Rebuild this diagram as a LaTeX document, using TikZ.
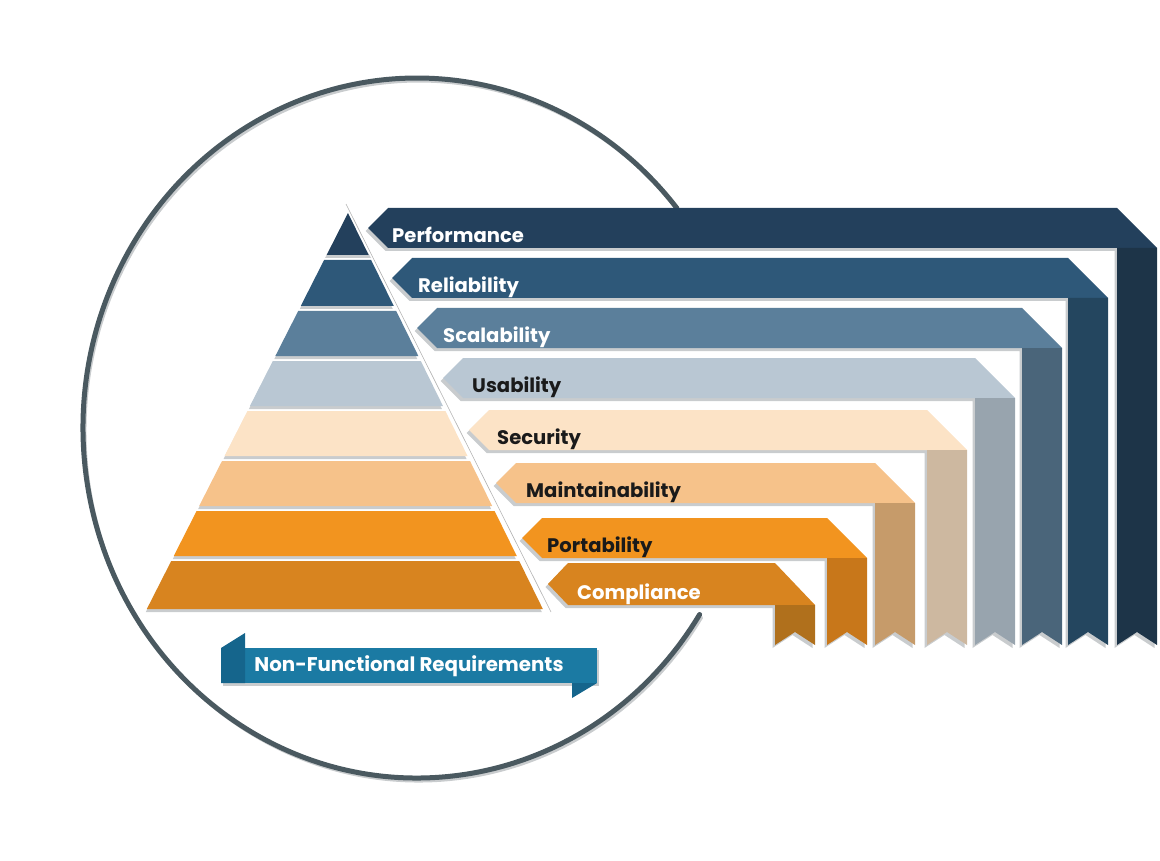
\documentclass[tikz,border=0pt]{standalone}
\usepackage{fontspec}
\setmainfont{Poppins}
\usetikzlibrary{calc}
\definecolor{b1}{HTML}{23405C}\definecolor{b2}{HTML}{2E5879}
\definecolor{b3}{HTML}{5B7F9B}\definecolor{b4}{HTML}{B9C7D3}
\definecolor{b5}{HTML}{FCE3C6}\definecolor{b6}{HTML}{F6C28A}
\definecolor{b7}{HTML}{F2941F}\definecolor{b8}{HTML}{D8841F}
\definecolor{s1}{HTML}{1D3448}\definecolor{s2}{HTML}{24465F}
\definecolor{s3}{HTML}{4A657A}\definecolor{s4}{HTML}{98A4AE}
\definecolor{s5}{HTML}{CDB8A0}\definecolor{s6}{HTML}{C69B6A}
\definecolor{s7}{HTML}{C8771A}\definecolor{s8}{HTML}{B0701C}
\definecolor{ringc}{HTML}{4A5960}\definecolor{shadowc}{HTML}{C9CCCE}
\definecolor{darktxt}{HTML}{1A1A1A}
\definecolor{banc}{HTML}{1B7AA3}\definecolor{bandark}{HTML}{15658C}
\tikzset{
  lbl/.style={font=\fontsize{19.6}{22}\selectfont\bfseries, inner sep=0pt},
  banlbl/.style={font=\fontsize{19.8}{22}\selectfont\bfseries, inner sep=0pt},
  ring/.style={draw=ringc, line width=5pt, line cap=round},
  ringshadow/.style={draw=shadowc, line width=3pt, line cap=round},
}
\newcommand{\pyrlayer}[3]{% top, bottom, colour
  \pgfmathsetmacro\ltx{348-0.508*(#1-213)}
  \pgfmathsetmacro\rtx{348+0.492*(#1-213)}
  \pgfmathsetmacro\lbx{348-0.508*(#2-213)}
  \pgfmathsetmacro\rbx{348+0.492*(#2-213)}
  \fill[shadowc] (\ltx-1,#1+3) -- (\rtx-1,#1+3) -- (\rbx-1,#2+3) -- (\lbx-1,#2+3) -- cycle;
  \fill[#3] (\ltx,#1) -- (\rtx,#1) -- (\rbx,#2) -- (\lbx,#2) -- cycle;
}
\newcommand{\ribbon}[9]{% top, bottom, tip x, strip x, band col, strip col, text col, text x, label
  \pgfmathsetmacro\ymid{(#1+#2)/2}
  \pgfmathsetmacro\cx{#3+20}
  \pgfmathsetmacro\xe{#4+40}
  \pgfmathsetmacro\xm{#4+20}
  \fill[shadowc, shift={(-2.5,3)}] (#3,\ymid) -- (\cx,#1) -- (#4,#1) -- (\xe,#2) -- (\xe,645) -- (\xm,632) -- (#4,645) -- (#4,#2) -- (\cx,#2) -- cycle;
  \fill[#5] (#3,\ymid) -- (\cx,#1) -- (#4,#1) -- (\xe,#2) -- (\cx,#2) -- cycle;
  \fill[#6] (#4,#2) -- (\xe,#2) -- (\xe,645) -- (\xm,632) -- (#4,645) -- cycle;
  \node[lbl, text=#7, anchor=base west] at (#8,#2-5.5) {#9};
}
\begin{document}
\begin{tikzpicture}[x=1pt,y=-1pt]
\useasboundingbox (0,0) rectangle (1160,861);
% ring
\coordinate (ringc) at (417,428);
\coordinate (rs) at ($(ringc)+(32.2:334 and 350)$);
\coordinate (rss) at ($(rs)+(2,3)$);
\draw[ringshadow] (rss) arc[start angle=32.2, end angle=321.1, x radius=334, y radius=350];
\draw[ring] (rs) arc[start angle=32.2, end angle=321.1, x radius=334, y radius=350];
% pyramid
\fill[shadowc] (347,216) -- (371,258) -- (325,258) -- cycle;
\fill[b1] (348,213) -- (348+0.492*42,255) -- (348-0.508*42,255) -- cycle;
\pyrlayer{260}{306}{b2}
\pyrlayer{311}{356}{b3}
\pyrlayer{361}{406}{b4}
\pyrlayer{411}{456}{b5}
\pyrlayer{461}{506}{b6}
\pyrlayer{511}{556}{b7}
\pyrlayer{561}{609}{b8}
\coordinate (la) at (346,204);
\coordinate (lb) at (551,612);
\draw[gray!60, line width=0.6pt] (la) -- (lb);
% ribbons
\ribbon{208}{248}{368}{1117}{b1}{s1}{white}{392}{Performance}
\ribbon{258}{298}{392}{1068}{b2}{s2}{white}{418}{Reliability}
\ribbon{308}{348}{417}{1022}{b3}{s3}{white}{443}{Scalability}
\ribbon{358}{398}{443}{975}{b4}{s4}{darktxt}{472}{Usability}
\ribbon{410}{450}{469}{927}{b5}{s5}{darktxt}{497}{Security}
\ribbon{463}{503}{496}{875}{b6}{s6}{darktxt}{526}{Maintainability}
\ribbon{518}{558}{522}{827}{b7}{s7}{darktxt}{547}{Portability}
\ribbon{563}{605}{548}{775}{b8}{s8}{white}{577}{Compliance}
% banner
\fill[shadowc] (223,650) -- (599,650) -- (599,686) -- (223,686) -- cycle;
\fill[banc] (245,648) -- (597,648) -- (597,683) -- (245,683) -- cycle;
\fill[bandark] (221,648) -- (245,633) -- (245,683) -- (221,683) -- cycle;
\fill[bandark] (572,683) -- (597,683) -- (572,698) -- cycle;
\node[banlbl, text=white] (nfr) at (409,666) {Non-Functional Requirements};
\end{tikzpicture}
\end{document}
